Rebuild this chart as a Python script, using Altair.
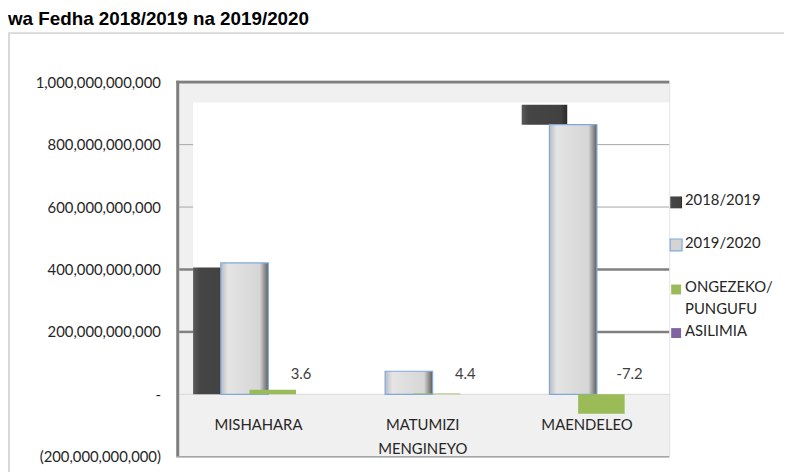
import altair as alt
import pandas as pd

# ---------------- data ----------------
categories = ["MISHAHARA", "MATUMIZI MENGINEYO", "MAENDELEO"]
budget_2018_19 = [406e9, 71e9, 928e9]
budget_2019_20 = [421e9, 74e9, 864e9]
change = [15e9, 3e9, -62e9]
percent = [3.6, 4.4, -7.2]
y_ticks = [-200e9, 0, 200e9, 400e9, 600e9, 800e9, 1000e9]
grid_thin = [600e9, 800e9]
grid_thick = [200e9, 400e9]
series = ["2018/2019", "2019/2020", "ONGEZEKO/\nPUNGUFU", "ASILIMIA"]
title_text = "wa Fedha 2018/2019 na 2019/2020"

df = pd.DataFrame({
    "cat": categories,
    "v2018": budget_2018_19,
    "v2019": budget_2019_20,
    "diff": change,
    "pct": percent,
})
df["pct_label"] = [f"{p:.1f}" for p in percent]
# the 2018/2019 bar only shows where it is not hidden behind the 2019/2020 bar
df["visible_from"] = [0.0] + [min(a, b) for a, b in zip(budget_2018_19[1:], budget_2019_20[1:])]

W, H = 498, 380
FONT = "Lato"
TXT = "#262626"
NB = "\u00a0"

yscale = alt.Scale(domain=[-200e9, 1005e9], nice=False, zero=False)
xscale = alt.Scale(domain=categories, paddingInner=0, paddingOuter=0)

y_axis = alt.Axis(
    title=None, values=y_ticks, domain=False, ticks=False, tickSize=0, grid=False,
    labelPadding=16, labelFont=FONT, labelFontSize=15, labelColor=TXT,
    labelExpr=(
        "datum.value == 0 ? '-" + NB * 5 + "' : (datum.value < 0 ? '(' + format(-datum.value, ',.0f') + ')' "
        ": format(datum.value, ',.0f') + '" + NB * 2 + "')"
    ),
)
x_axis = alt.Axis(
    title=None, domain=False, ticks=False, tickSize=0, grid=False, labelAngle=0,
    labelPadding=-40, labelBaseline="top", labelFont=FONT, labelFontSize=15,
    labelColor=TXT, labelLineHeight=25, labelLimit=0, zindex=5,
    labelExpr="split(datum.label, ' ')",
)


def X():
    return alt.X("cat:N", scale=xscale, axis=x_axis, sort=categories)


def Y(field):
    return alt.Y(field, type="quantitative", scale=yscale, axis=y_axis)


def Y0():
    return alt.Y(datum=0, type="quantitative", scale=yscale, axis=y_axis)


one = alt.Data(values=[{"k": 0}])

dark_grad = alt.LinearGradient(
    gradient="linear", x1=0, x2=1, y1=0, y2=0,
    stops=[alt.GradientStop(color="#5a5a5a", offset=0),
           alt.GradientStop(color="#454545", offset=0.15),
           alt.GradientStop(color="#414141", offset=0.85),
           alt.GradientStop(color="#2a2a2a", offset=1)],
)
light_grad = alt.LinearGradient(
    gradient="linear", x1=0, x2=1, y1=0, y2=0,
    stops=[alt.GradientStop(color="#b9bcc2", offset=0),
           alt.GradientStop(color="#e4e4e4", offset=0.15),
           alt.GradientStop(color="#d6d6d6", offset=0.82),
           alt.GradientStop(color="#5c5c5c", offset=1)],
)

layers = []

# outer chart frame and title
layers.append(alt.Chart(one).mark_text(
    align="left", baseline="top", font="Liberation Sans", fontWeight="bold",
    fontSize=19, color="#000000", text=title_text,
).encode(x=alt.value(-170), y=alt.value(-71)))
layers.append(alt.Chart(one).mark_rule(color="#d9d9d9", strokeWidth=2).encode(
    x=alt.value(-170), x2=alt.value(614), y=alt.value(-48)))
layers.append(alt.Chart(one).mark_rule(color="#d9d9d9", strokeWidth=2).encode(
    x=alt.value(-169), y=alt.value(-48), y2=alt.value(400)))

# plot backgrounds
layers.append(alt.Chart(one).mark_rect(color="#f0f0f0").encode(
    x=alt.value(0), x2=alt.value(W), y=alt.value(0), y2=alt.value(H)))
layers.append(alt.Chart(one).mark_rect(color="#ffffff").encode(
    x=alt.value(17), x2=alt.value(W), y=Y0(), y2=alt.value(22)))

# gridline stubs
for gvals, gcol, gw in [(grid_thin, "#a6a6a6", 1), (grid_thick, "#808080", 2.5)]:
    gdf = pd.DataFrame({"g": gvals})
    for xa, xb in [(3, 17), (425, W)]:
        layers.append(alt.Chart(gdf).mark_rule(color=gcol, strokeWidth=gw).encode(
            y=Y("g"), x=alt.value(xa), x2=alt.value(xb)))
layers.append(alt.Chart(one).mark_rule(color="#d9d9d9", strokeWidth=1).encode(
    y=Y0(), x=alt.value(3), x2=alt.value(W)))

# plot border
layers.append(alt.Chart(one).mark_rule(color="#7f7f7f", strokeWidth=3).encode(
    x=alt.value(1.5), y=alt.value(0), y2=alt.value(H)))
layers.append(alt.Chart(one).mark_rule(color="#7f7f7f", strokeWidth=3).encode(
    y=alt.value(1.5), x=alt.value(0), x2=alt.value(W)))
layers.append(alt.Chart(one).mark_rule(color="#a6a6a6", strokeWidth=1.5).encode(
    y=alt.value(H), x=alt.value(0), x2=alt.value(W)))

# bars
layers.append(alt.Chart(df).mark_bar(width=46, xOffset=-43, fill=dark_grad).encode(
    x=X(), y=Y("visible_from"), y2="v2018:Q"))
layers.append(alt.Chart(df).mark_bar(width=48, xOffset=-14, fill=light_grad,
                                     stroke="#7fa9dc", strokeWidth=1.2).encode(
    x=X(), y=Y("v2019"), y2=alt.Y2(datum=0)))
layers.append(alt.Chart(df).mark_bar(width=47, xOffset=14.5, fill="#9bbb59").encode(
    x=X(), y=Y("diff"), y2=alt.Y2(datum=0)))
layers.append(alt.Chart(df).mark_bar(width=46, xOffset=42, fill="#8064a2").encode(
    x=X(), y=Y("pct"), y2=alt.Y2(datum=0)))
layers.append(alt.Chart(df).mark_text(xOffset=43, dy=-20, font=FONT, fontSize=15,
                                      color="#404040").encode(
    x=X(), y=Y("pct"), text="pct_label:N"))

# legend
leg_x_sym, leg_x_txt = 505, 514
leg_y = [123, 166, 211, 255]
leg_sym = [
    dict(fill=dark_grad, size=144),
    dict(fill="#d4d4d4", stroke="#7fa9dc", strokeWidth=1.2, size=144),
    dict(fill="#9bbb59", size=100),
    dict(fill="#8064a2", size=100),
]
for name, yy, sym in zip(series, leg_y, leg_sym):
    layers.append(alt.Chart(one).mark_square(opacity=1, **sym).encode(
        x=alt.value(leg_x_sym), y=alt.value(yy)))
    layers.append(alt.Chart(one).mark_text(
        align="left", baseline="top", font=FONT, fontSize=15, color=TXT,
        lineBreak="\n", lineHeight=22, text=name,
    ).encode(x=alt.value(leg_x_txt), y=alt.value(yy - 9)))

chart = alt.layer(*layers).properties(
    width=W, height=H,
    autosize=alt.AutoSizeParams(type="none"),
    padding={"left": 170, "top": 71, "right": 116, "bottom": 13},
).configure_view(stroke=None).configure(background="#ffffff")

chart.save("out.html", embed_options={"renderer": "svg", "actions": False})
